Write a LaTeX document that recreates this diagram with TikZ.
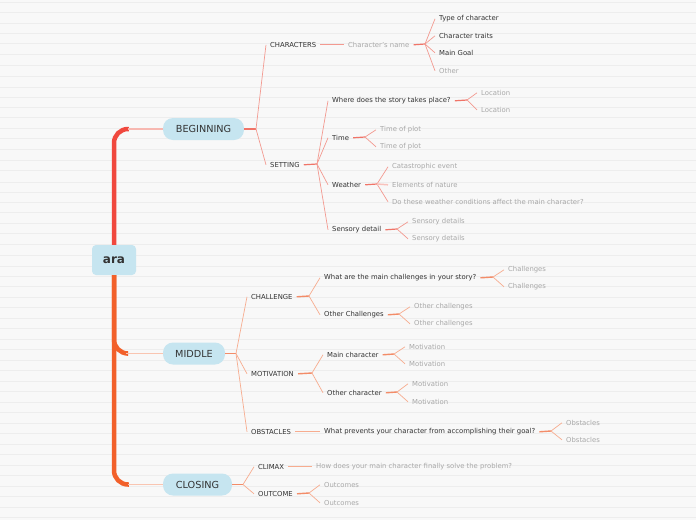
\documentclass[tikz,border=0pt]{standalone}
\usepackage{fontspec}
\setmainfont{DejaVu Sans}
\definecolor{bg}{HTML}{F8F8F8}
\definecolor{gridc}{HTML}{EDEDED}
\definecolor{pillblue}{HTML}{C6E5F0}
\definecolor{txtdark}{HTML}{333333}
\definecolor{txtgray}{HTML}{A8A8A8}
\definecolor{trunkR}{HTML}{F0483E}
\definecolor{trunkO}{HTML}{F2602A}
\definecolor{bcol}{HTML}{F39990}
\definecolor{bstub}{HTML}{F07468}
\definecolor{mcol}{HTML}{F7AC8F}
\definecolor{mstub}{HTML}{F38C68}
\newcommand{\fs}{\fontsize{6.85}{8}\selectfont}
\tikzset{
  lbl/.style={anchor=west, inner sep=0pt, font=\fs, text=txtdark, yshift=-0.8pt},
  sub/.style={lbl, text=txtgray},
  pill/.style={rounded corners=10pt, fill=pillblue, minimum height=22pt, inner xsep=2pt, font=\fontsize{9.7}{11}\selectfont, text=txtdark},
  rootbox/.style={rounded corners=4pt, fill=pillblue, minimum width=44pt, minimum height=30pt, font=\bfseries\fontsize{12}{14}\selectfont, text=txtdark},
  twigB/.style={draw=bcol, line width=0.7pt},
  stubB/.style={draw=bstub, line width=1.2pt},
  twigM/.style={draw=mcol, line width=0.7pt},
  stubM/.style={draw=mstub, line width=1.4pt},
}
\begin{document}
\begin{tikzpicture}[x=1pt,y=-1pt]
\useasboundingbox (0,0) rectangle (696,520);
\fill[bg] (0,0) rectangle (696,520);
\foreach \yy in {2,12,23,33,43,54,65,76,87,97,107,117,128,138,149,160,170,182,192,202,212,223,233,244,255,266,276,286,297,307,318,328,339,349,360,370,381,391,402,412,423,433,444,454,465,475,486,496,507,517}
  \draw[gridc, line width=0.5pt] (0,\yy) -- (696,\yy);

% main nodes
\node[rootbox] (ara) at (114,260) {ara};
\node[pill, minimum width=81pt] (beg) at (203.5,129) {BEGINNING};
\node[pill, minimum width=62pt] (mid) at (194,353.5) {MIDDLE};
\node[pill, minimum width=69pt] (clo) at (197.5,484.5) {CLOSING};

% trunk
\draw[trunkR, line width=4.5pt, rounded corners=14pt] (ara.north) |- ([xshift=-34]beg.west);
\draw[bcol!70, line width=1.5pt] ([xshift=-35]beg.west) -- (beg.west);
\draw[trunkO, line width=4.5pt, rounded corners=14pt] (ara.south) |- ([xshift=-36]mid.west);
\draw[mcol!70, line width=1.5pt] ([xshift=-37]mid.west) -- (mid.west);
\draw[trunkO, line width=4.5pt, rounded corners=14pt] (ara.south) |- ([xshift=-34]clo.west);
\draw[mcol!70, line width=1.5pt] ([xshift=-35]clo.west) -- (clo.west);

% ===== BEGINNING =====
\node[lbl] (chars) at (270,44) {CHARACTERS};
\node[lbl] (sett) at (270,164) {SETTING};
\coordinate (fb) at (256,129);
\draw[stubB] (beg.east) -- (fb);
\draw[twigB] (fb) -- ([xshift=-4]chars.west);
\draw[twigB] (fb) -- ([xshift=-4]sett.west);

\node[sub] (cname) at (348,44) {Character's name};
\draw[twigB] ([xshift=4]chars.east) -- ([xshift=-4]cname.west);
\node[lbl] (c1) at (439,18) {Type of character};
\node[lbl] (c2) at (439,35) {Character traits};
\node[lbl] (c3) at (439,52) {Main Goal};
\node[sub] (c4) at (439,70) {Other};
\coordinate (fc) at (425,44);
\draw[stubB] ([xshift=4]cname.east) -- (fc);
\foreach \n in {c1,c2,c3,c4} \draw[twigB] (fc) -- ([xshift=-4]\n.west);

\node[lbl] (where) at (332,100) {Where does the story takes place?};
\node[lbl] (time) at (332,137) {Time};
\node[lbl] (weath) at (332,184) {Weather};
\node[lbl] (sens) at (332,229) {Sensory detail};
\coordinate (fs) at (317,164);
\draw[stubB] ([xshift=4]sett.east) -- (fs);
\foreach \n in {where,time,weath,sens} \draw[twigB] (fs) -- ([xshift=-4]\n.west);

\node[sub] (loc1) at (481,92) {Location};
\node[sub] (loc2) at (481,109) {Location};
\coordinate (fw) at (467,100);
\draw[stubB] ([xshift=4]where.east) -- (fw);
\foreach \n in {loc1,loc2} \draw[twigB] (fw) -- ([xshift=-4]\n.west);

\node[sub] (tp1) at (380,129) {Time of plot};
\node[sub] (tp2) at (380,146) {Time of plot};
\coordinate (ft) at (365,137);
\draw[stubB] ([xshift=4]time.east) -- (ft);
\foreach \n in {tp1,tp2} \draw[twigB] (ft) -- ([xshift=-4]\n.west);

\node[sub] (w1) at (392,166) {Catastrophic event};
\node[sub] (w2) at (392,184) {Elements of nature};
\node[sub] (w3) at (392,201) {Do these weather conditions affect the main character?};
\coordinate (fwe) at (377,184);
\draw[stubB] ([xshift=4]weath.east) -- (fwe);
\foreach \n in {w1,w3} \draw[twigB] (fwe) -- ([xshift=-4]\n.west);
\draw[bcol!60, line width=1.5pt] (fwe) -- ([xshift=-4]w2.west);

\node[sub] (s1) at (412,221) {Sensory details};
\node[sub] (s2) at (412,238) {Sensory details};
\coordinate (fse) at (397,229);
\draw[stubB] ([xshift=4]sens.east) -- (fse);
\foreach \n in {s1,s2} \draw[twigB] (fse) -- ([xshift=-4]\n.west);

% ===== MIDDLE =====
\node[lbl] (chal) at (251,296) {CHALLENGE};
\node[lbl] (motiv) at (251,373) {MOTIVATION};
\node[lbl] (obst) at (251,431) {OBSTACLES};
\coordinate (fm) at (236,353.5);
\draw[stubM] (mid.east) -- (fm);
\foreach \n in {chal,motiv,obst} \draw[twigM] (fm) -- ([xshift=-4]\n.west);

\node[lbl] (wq) at (324,277) {What are the main challenges in your story?};
\node[lbl] (oc) at (324,314) {Other Challenges};
\coordinate (fch) at (309,296);
\draw[stubM] ([xshift=4]chal.east) -- (fch);
\foreach \n in {wq,oc} \draw[twigM] (fch) -- ([xshift=-4]\n.west);

\node[sub] (ch1) at (508,269) {Challenges};
\node[sub] (ch2) at (508,286) {Challenges};
\coordinate (fwq) at (493,277);
\draw[stubM] ([xshift=4]wq.east) -- (fwq);
\foreach \n in {ch1,ch2} \draw[twigM] (fwq) -- ([xshift=-4]\n.west);

\node[sub] (oc1) at (414,306) {Other challenges};
\node[sub] (oc2) at (414,323) {Other challenges};
\coordinate (foc) at (399,314);
\draw[stubM] ([xshift=4]oc.east) -- (foc);
\foreach \n in {oc1,oc2} \draw[twigM] (foc) -- ([xshift=-4]\n.west);

\node[lbl] (mc) at (327,354) {Main character};
\node[lbl] (och) at (327,392) {Other character};
\coordinate (fmo) at (312,373);
\draw[stubM] ([xshift=4]motiv.east) -- (fmo);
\foreach \n in {mc,och} \draw[twigM] (fmo) -- ([xshift=-4]\n.west);

\node[sub] (m1) at (409,346) {Motivation};
\node[sub] (m2) at (409,363) {Motivation};
\coordinate (fmc) at (394,354);
\draw[stubM] ([xshift=4]mc.east) -- (fmc);
\foreach \n in {m1,m2} \draw[twigM] (fmc) -- ([xshift=-4]\n.west);

\node[sub] (m3) at (412,383) {Motivation};
\node[sub] (m4) at (412,401) {Motivation};
\coordinate (foch) at (397,392);
\draw[stubM] ([xshift=4]och.east) -- (foch);
\foreach \n in {m3,m4} \draw[twigM] (foch) -- ([xshift=-4]\n.west);

\node[lbl] (wp) at (324,431) {What prevents your character from accomplishing their goal?};
\draw[twigM] ([xshift=4]obst.east) -- ([xshift=-4]wp.west);
\node[sub] (ob1) at (566,422) {Obstacles};
\node[sub] (ob2) at (566,439) {Obstacles};
\coordinate (fwp) at (551,431);
\draw[stubM] ([xshift=4]wp.east) -- (fwp);
\foreach \n in {ob1,ob2} \draw[twigM] (fwp) -- ([xshift=-4]\n.west);

% ===== CLOSING =====
\node[lbl] (clim) at (258,466) {CLIMAX};
\node[lbl] (outc) at (258,493) {OUTCOME};
\coordinate (fcl) at (243,484.5);
\draw[stubM] (clo.east) -- (fcl);
\foreach \n in {clim,outc} \draw[twigM] (fcl) -- ([xshift=-4]\n.west);

\node[sub] (how) at (316,466) {How does your main character finally solve the problem?};
\draw[twigM] ([xshift=4]clim.east) -- ([xshift=-4]how.west);

\node[sub] (o1) at (324,484) {Outcomes};
\node[sub] (o2) at (324,502) {Outcomes};
\coordinate (fo) at (309,493);
\draw[stubM] ([xshift=4]outc.east) -- (fo);
\foreach \n in {o1,o2} \draw[twigM] (fo) -- ([xshift=-4]\n.west);
\end{tikzpicture}
\end{document}
